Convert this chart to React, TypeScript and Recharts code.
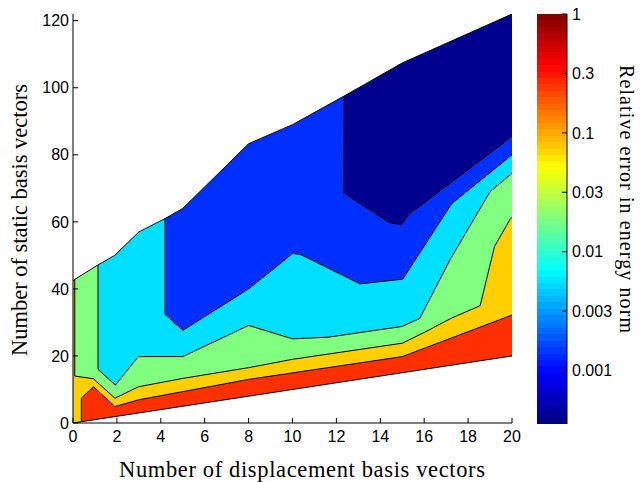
import React from 'react';
import { ComposedChart, Area, XAxis, YAxis, BarChart, Bar } from 'recharts';

// axes
const X_TICKS = [0, 2, 4, 6, 8, 10, 12, 14, 16, 18, 20];
const Y_TICKS = [0, 20, 40, 60, 80, 100, 120];
const X_MAX = 20;
const Y_MAX = 122;

// contour edges; each layer fills from its edge up to the top of the plot
const redEdge = [
  { x: 0, y: 0 },
  { x: 20, y: 20 },
];
const yellowEdge = [
  { x: 0, y: 0 },
  { x: 0.38, y: 0.38 },
  { x: 0.38, y: 7.4 },
  { x: 0.93, y: 10.8 },
  { x: 1.91, y: 4.9 },
  { x: 2.98, y: 6.9 },
  { x: 8, y: 13 },
  { x: 15, y: 19.8 },
  { x: 20, y: 32.2 },
];
const greenEdge = [
  { x: 0.08, y: 122 },
  { x: 0.08, y: 14 },
  { x: 0.93, y: 13.2 },
  { x: 1.91, y: 7.4 },
  { x: 2.98, y: 10.8 },
  { x: 5, y: 13.3 },
  { x: 8, y: 16.5 },
  { x: 10, y: 19 },
  { x: 15, y: 23.8 },
  { x: 16, y: 27 },
  { x: 17.25, y: 31.3 },
  { x: 18.55, y: 35 },
  { x: 19.2, y: 52.6 },
  { x: 19.9, y: 60.6 },
  { x: 20, y: 61.5 },
];
const cyanEdge = [
  { x: 1.14, y: 122 },
  { x: 1.14, y: 16 },
  { x: 1.93, y: 11.3 },
  { x: 2.98, y: 19.8 },
  { x: 5, y: 19.8 },
  { x: 8, y: 29.1 },
  { x: 10, y: 25.1 },
  { x: 11.63, y: 25.6 },
  { x: 15, y: 28.8 },
  { x: 15.8, y: 31.2 },
  { x: 17.18, y: 48.7 },
  { x: 19, y: 69 },
  { x: 20, y: 74.5 },
];
const blueEdge = [
  { x: 4.19, y: 122 },
  { x: 4.19, y: 32.4 },
  { x: 5, y: 27.6 },
  { x: 8, y: 40 },
  { x: 9.66, y: 48.7 },
  { x: 10, y: 50.6 },
  { x: 10.42, y: 50.1 },
  { x: 13.07, y: 41.5 },
  { x: 15.02, y: 42.9 },
  { x: 17.25, y: 65.4 },
  { x: 20, y: 80 },
];
const navyEdge = [
  { x: 12.38, y: 122 },
  { x: 12.33, y: 68.6 },
  { x: 14.4, y: 59.8 },
  { x: 14.97, y: 59.1 },
  { x: 15.28, y: 62.1 },
  { x: 20, y: 85.5 },
];
// upper limit of the computed region, everything above is blank
const domainTop = [
  { x: 0, y: 42.5 },
  { x: 1.1, y: 47 },
  { x: 1.9, y: 50 },
  { x: 3, y: 57 },
  { x: 4.2, y: 61 },
  { x: 5, y: 64 },
  { x: 8, y: 83.3 },
  { x: 10, y: 89 },
  { x: 12.4, y: 97.7 },
  { x: 15, y: 107.4 },
  { x: 20, y: 122 },
];

const layers = [
  { name: 'red', data: redEdge, fill: '#ff3000' },
  { name: 'yellow', data: yellowEdge, fill: '#ffcf00' },
  { name: 'green', data: greenEdge, fill: '#80ff80' },
  { name: 'cyan', data: cyanEdge, fill: '#00dfff' },
  { name: 'blue', data: blueEdge, fill: '#0030ff' },
  { name: 'navy', data: navyEdge, fill: '#00008f' },
];

// colorbar, log10 of the relative error
const CB_TICKS = [0, -0.5, -1, -1.5, -2, -2.5, -3];
const CB_LABELS = ['1', '0.3', '0.1', '0.03', '0.01', '0.003', '0.001'];
const CB_MIN = -3.45;
const CB_MAX = 0;
const cbData = [{ name: 'err', range: [CB_MIN, CB_MAX] }];

const jet = (t: number) => {
  const c = (v: number) => Math.round(255 * Math.max(0, Math.min(1, v)));
  return `rgb(${c(1.5 - Math.abs(4 * t - 3))},${c(1.5 - Math.abs(4 * t - 2))},${c(1.5 - Math.abs(4 * t - 1))})`;
};
const BANDS = 64;

const tickFont = { fontFamily: 'Liberation Sans, Arial, sans-serif', fontSize: 16, fill: '#000' };
const labelFont = { fontFamily: 'Liberation Serif, serif', fontSize: 22.5, fill: '#000' };

export default function App() {
  return (
    <div style={{ position: 'absolute', left: 0, top: 0, width: 640, height: 482, background: '#fff' }}>
      <div style={{ position: 'absolute', left: 0, top: 0 }}>
        <ComposedChart width={640} height={482} margin={{ top: 14, right: 128, bottom: 29, left: 33 }}>
          <XAxis
            type="number"
            dataKey="x"
            domain={[0, X_MAX]}
            ticks={X_TICKS}
            allowDataOverflow
            height={30}
            tickSize={-5}
            tickMargin={13}
            tick={tickFont}
            stroke="#000"
            tickLine={{ stroke: '#000' }}
          />
          <XAxis
            xAxisId="top"
            orientation="top"
            type="number"
            domain={[0, X_MAX]}
            ticks={X_TICKS}
            height={0}
            tickSize={-5}
            tick={false}
            stroke="#000"
          />
          <YAxis
            type="number"
            domain={[0, Y_MAX]}
            ticks={Y_TICKS}
            allowDataOverflow
            width={40}
            tickSize={-5}
            tickMargin={9}
            tick={tickFont}
            stroke="#000"
          />
          <YAxis
            yAxisId="right"
            orientation="right"
            type="number"
            domain={[0, Y_MAX]}
            ticks={Y_TICKS}
            width={0}
            tickSize={-5}
            tick={false}
            stroke="#000"
          />
          {layers.map((l) => (
            <Area
              key={l.name}
              data={l.data}
              dataKey="y"
              type="linear"
              baseValue={Y_MAX}
              fill={l.fill}
              fillOpacity={1}
              stroke="#000"
              strokeWidth={1}
              dot={false}
              activeDot={false}
              isAnimationActive={false}
            />
          ))}
          <Area
            data={domainTop}
            dataKey="y"
            type="linear"
            baseValue={Y_MAX}
            fill="#fff"
            fillOpacity={1}
            stroke="#000"
            strokeWidth={1}
            dot={false}
            activeDot={false}
            isAnimationActive={false}
          />
        </ComposedChart>
      </div>

      <div style={{ position: 'absolute', left: 537, top: 0 }}>
        <BarChart width={100} height={482} data={cbData} margin={{ top: 14, right: 0, bottom: 58, left: 0 }} barCategoryGap={0}>
          <defs>
            <linearGradient id="jet" x1="0" y1="1" x2="0" y2="0">
              {Array.from({ length: BANDS }).flatMap((_, i) => [
                <stop key={`a${i}`} offset={i / BANDS} stopColor={jet((i + 0.5) / BANDS)} />,
                <stop key={`b${i}`} offset={(i + 1) / BANDS} stopColor={jet((i + 0.5) / BANDS)} />,
              ])}
            </linearGradient>
          </defs>
          <XAxis dataKey="name" height={0} tick={false} tickLine={false} stroke="#000" />
          <XAxis xAxisId="top" dataKey="name" orientation="top" height={0} tick={false} tickLine={false} stroke="#000" />
          <YAxis
            orientation="right"
            type="number"
            domain={[CB_MIN, CB_MAX]}
            ticks={CB_TICKS}
            width={70}
            tickSize={-5}
            tickMargin={10}
            tick={tickFont}
            tickFormatter={(v: number) => CB_LABELS[CB_TICKS.indexOf(v)] ?? ''}
            stroke="#000"
          />
          <YAxis
            yAxisId="left"
            orientation="left"
            type="number"
            domain={[CB_MIN, CB_MAX]}
            ticks={CB_TICKS}
            width={0}
            tickSize={-5}
            tick={false}
            stroke="#000"
          />
          <Bar dataKey="range" fill="url(#jet)" isAnimationActive={false} />
        </BarChart>
      </div>

      <svg width={640} height={482} style={{ position: 'absolute', left: 0, top: 0, pointerEvents: 'none' }}>
        <text x={302} y={477} textAnchor="middle" textLength={366} lengthAdjust="spacing" {...labelFont}>
          Number of displacement basis vectors
        </text>
        <text
          transform="translate(27,220) rotate(-90)"
          textAnchor="middle"
          textLength={272}
          lengthAdjust="spacing"
          {...labelFont}
        >
          Number of static basis vectors
        </text>
        <text
          transform="translate(620,199) rotate(90)"
          textAnchor="middle"
          textLength={268}
          lengthAdjust="spacing"
          {...labelFont}
          fontSize={20}
        >
          Relative error in energy norm
        </text>
      </svg>
    </div>
  );
}
